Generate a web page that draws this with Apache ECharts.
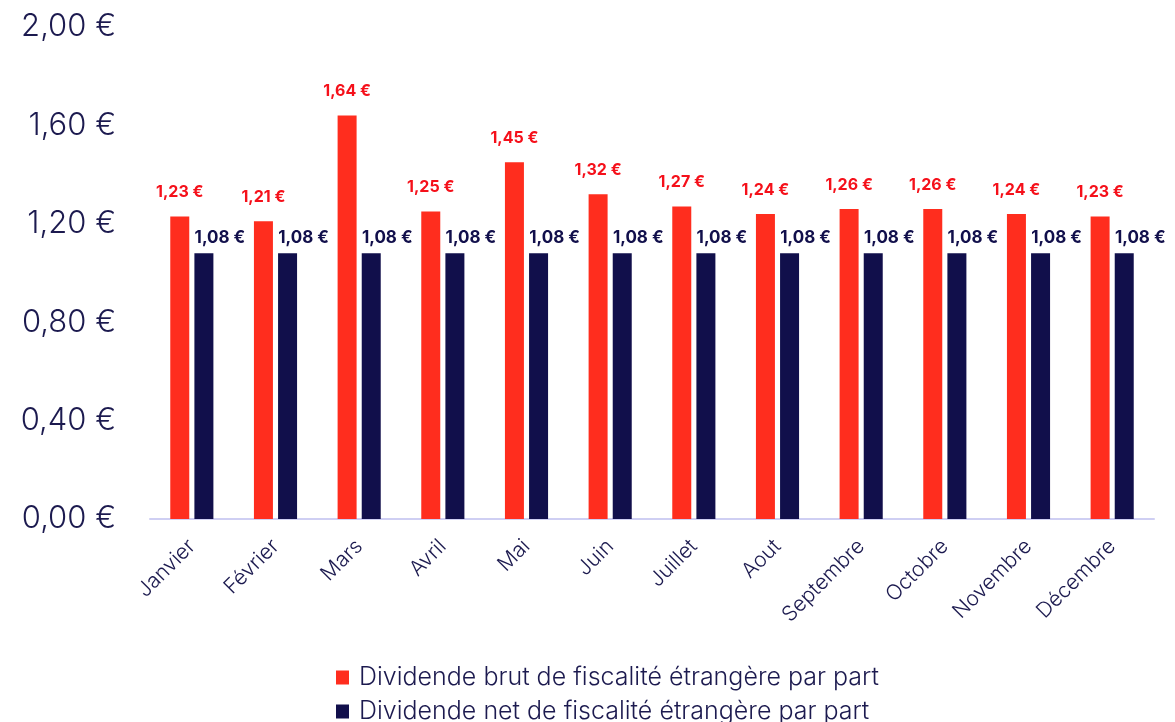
<!DOCTYPE html>
<html>
<head>
<meta charset="utf-8">
<script src="https://cdn.jsdelivr.net/npm/echarts@6/dist/echarts.min.js"></script>
<style>
  html, body { margin: 0; padding: 0; background: #fff; }
  #main { width: 1175px; height: 722px; }
</style>
</head>
<body>
<div id="main"></div>
<script>
const months = ['Janvier', 'Février', 'Mars', 'Avril', 'Mai', 'Juin', 'Juillet', 'Aout', 'Septembre', 'Octobre', 'Novembre', 'Décembre'];
const brut = [1.23, 1.21, 1.64, 1.25, 1.45, 1.32, 1.27, 1.24, 1.26, 1.26, 1.24, 1.23];
const net = [1.08, 1.08, 1.08, 1.08, 1.08, 1.08, 1.08, 1.08, 1.08, 1.08, 1.08, 1.08];
const serieNames = ['Dividende brut de fiscalité étrangère par part', 'Dividende net de fiscalité étrangère par part'];

const navy = '#110f4b';
const red = '#ff2d1e';
const euro = v => v.toFixed(2).replace('.', ',') + ' €';

// one legend per series so they stack vertically
const legendBox = (name, top) => ({
    left: 336,
    top: top,
    padding: 0,
    itemWidth: 13,
    itemHeight: 14,
    itemGap: 0,
    icon: 'rect',
    textStyle: { fontSize: 25, color: '#1c1a4f', fontFamily: 'Inter', fontWeight: 300, padding: [0, 0, 0, 5] },
    data: [name]
});

const chart = echarts.init(document.getElementById('main'));
chart.setOption({
    textStyle: { fontFamily: 'Inter' },
    grid: { left: 150, right: 21, top: 27, bottom: 203 },
    legend: [legendBox(serieNames[0], 665), legendBox(serieNames[1], 699)],
    xAxis: {
        type: 'category',
        data: months,
        axisLine: { lineStyle: { color: '#cfcff3', width: 2 } },
        axisTick: { show: false },
        axisLabel: { rotate: 45, fontSize: 21, color: '#1c1a4f', margin: 24, interval: 0, fontWeight: 300 }
    },
    yAxis: {
        type: 'value',
        min: 0,
        max: 2,
        interval: 0.4,
        splitLine: { show: false },
        axisLine: { show: false },
        axisTick: { show: false },
        axisLabel: { fontSize: 31, color: '#1c1a4f', margin: 34, fontWeight: 300, formatter: v => euro(v) }
    },
    series: [
        {
            name: serieNames[0],
            type: 'bar',
            data: brut,
            barWidth: 19,
            barGap: '27%',
            itemStyle: { color: red },
            label: {
                show: true, position: 'top', distance: 16,
                color: '#f5101a', fontWeight: 'bold', fontSize: 16,
                formatter: p => euro(p.value)
            }
        },
        {
            name: serieNames[1],
            type: 'bar',
            data: net,
            barWidth: 19,
            itemStyle: { color: navy },
            label: {
                show: true, position: 'top', distance: 7, offset: [16, 0],
                color: navy, fontWeight: 'bold', fontSize: 17,
                formatter: p => euro(p.value)
            }
        }
    ]
});
</script>
</body>
</html>
